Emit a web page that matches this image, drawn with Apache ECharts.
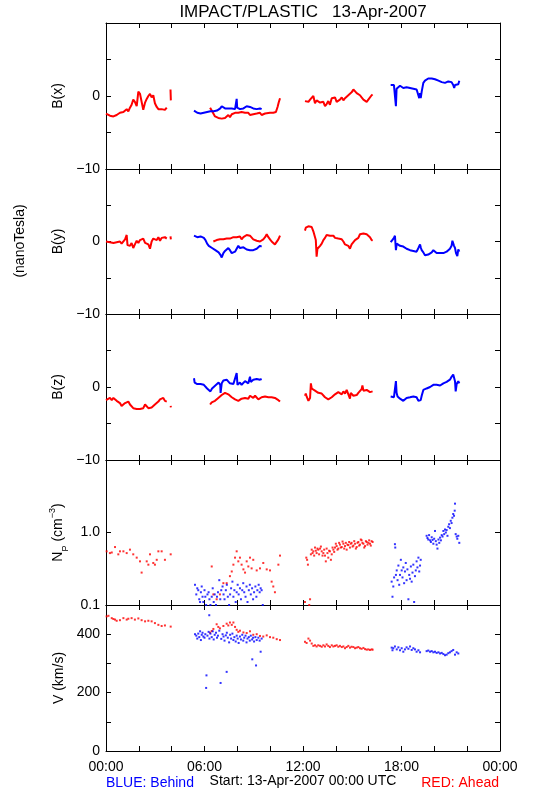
<!DOCTYPE html>
<html><head><meta charset="utf-8">
<script src="https://cdn.jsdelivr.net/npm/echarts@6/dist/echarts.min.js"></script>
<style>html,body{margin:0;padding:0;background:#fff}#c{width:550px;height:800px}</style>
</head><body><div id="c"></div>
<script>
// ---- tick labels / categories ----
const hourLabels = ['00:00','06:00','12:00','18:00','00:00'];

// ---- data: [hour, value] segments ----
const bxAhead = [
 [[0.00,-2.4],[0.10,-2.6],[0.24,-2.7],[0.35,-2.9],[0.45,-2.8],[0.55,-2.9],[0.65,-2.6],[0.75,-2.5],[0.85,-2.3],[0.95,-2.4],[1.06,-2.2],[1.16,-2.0],[1.26,-1.8],[1.36,-2.1],[1.46,-1.6],[1.56,-1.2],[1.66,-0.5],[1.76,-0.8],[1.87,-1.4],[1.97,0.6],[2.07,0.3],[2.17,0.2],[2.27,-1.9],[2.38,-0.9],[2.48,-0.4],[2.58,0.0],[2.68,0.3],[2.78,-0.2],[2.88,0.1],[2.98,-1.0],[3.09,-1.5],[3.19,-1.8],[3.29,-2.0],[3.39,-1.8],[3.49,-2.0],[3.59,-1.9],[3.70,-1.6]],
 [[3.93,0.9],[3.95,-0.6]],
 [[6.34,-1.6],[6.44,-2.0],[6.54,-2.4],[6.64,-2.8],[6.74,-2.7],[6.84,-3.0],[6.94,-2.9],[7.05,-3.1],[7.15,-3.2],[7.25,-3.0],[7.35,-3.1],[7.45,-2.6],[7.55,-2.9],[7.66,-2.5],[7.76,-2.6],[7.86,-2.3],[7.96,-2.5],[8.06,-2.3],[8.16,-2.4],[8.26,-2.2],[8.37,-2.4],[8.47,-2.3],[8.57,-2.5],[8.67,-2.3],[8.77,-2.6],[8.87,-2.4],[8.97,-2.5],[9.08,-2.7],[9.18,-2.4],[9.28,-2.5],[9.38,-2.3],[9.48,-2.6],[9.58,-2.5],[9.69,-2.4],[9.79,-2.5],[9.99,-2.3],[10.19,-2.3],[10.35,-2.2],[10.45,-1.5],[10.52,-0.9],[10.60,-0.3]],
 [[12.12,-0.7],[12.22,-0.9],[12.33,-0.8],[12.43,-0.5],[12.53,-0.3],[12.63,0.0],[12.73,-1.0],[12.83,-0.6],[12.93,-0.5],[13.04,-0.9],[13.14,-1.0],[13.24,-0.8],[13.34,-1.4],[13.44,-1.1],[13.54,-0.7],[13.64,-1.2],[13.75,-0.3],[13.85,-0.5],[13.95,-0.2],[14.05,-0.8],[14.15,-0.9],[14.25,-0.5],[14.36,-0.2],[14.46,-0.6],[14.56,-0.3],[14.66,-0.4],[14.76,0.1],[14.86,0.2],[14.96,0.5],[15.07,0.9],[15.17,0.7],[15.27,0.4],[15.37,0.6],[15.47,0.1],[15.57,-0.2],[15.68,-0.5],[15.78,-0.4],[15.88,-0.8],[15.98,-0.5],[16.08,-0.3],[16.18,0.1],[16.24,0.2]]
];
const bxBehind = [
 [[5.36,-2.0],[5.46,-2.1],[5.56,-2.3],[5.66,-2.3],[5.76,-2.4],[5.86,-2.3],[5.96,-2.3],[6.06,-2.3],[6.16,-2.2],[6.26,-2.2],[6.36,-2.1],[6.46,-2.0],[6.56,-2.1],[6.66,-1.9],[6.76,-2.0],[6.86,-1.8],[6.96,-1.7],[7.05,-1.4],[7.15,-1.6],[7.25,-1.7],[7.35,-1.8],[7.45,-1.7],[7.55,-1.9],[7.66,-1.7],[7.76,-1.5],[7.86,-1.8],[7.93,-1.7],[7.96,-0.4],[7.99,-1.6],[8.06,-1.5],[8.16,-1.8],[8.26,-1.6],[8.37,-1.7],[8.47,-1.5],[8.57,-1.4],[8.67,-1.2],[8.77,-1.5],[8.87,-1.6],[8.97,-1.7],[9.08,-1.6],[9.18,-1.8],[9.28,-1.9],[9.38,-1.7],[9.48,-1.8]],
 [[17.34,1.5],[17.44,1.6],[17.54,1.5],[17.62,1.4],[17.66,-1.4],[17.70,1.0],[17.81,1.2],[17.91,1.4],[18.01,1.2],[18.11,1.1],[18.21,0.9],[18.31,1.2],[18.42,1.0],[18.52,1.1],[18.62,1.2],[18.72,1.0],[18.82,1.1],[18.92,0.9],[19.00,0.3],[19.08,-0.3],[19.13,0.4],[19.17,-0.3],[19.23,0.6],[19.33,1.8],[19.43,2.1],[19.53,2.3],[19.63,2.4],[19.74,2.5],[19.84,2.4],[19.94,2.4],[20.04,2.3],[20.14,2.2],[20.25,2.1],[20.35,2.0],[20.45,1.9],[20.55,1.8],[20.65,1.8],[20.75,1.7],[20.85,2.0],[20.95,2.1],[21.05,1.9],[21.15,1.5],[21.21,1.1],[21.26,1.5],[21.36,1.7],[21.46,1.6],[21.52,2.1]]
];
const byAhead = [
 [[0.00,0.0],[0.10,0.1],[0.24,-0.1],[0.35,0.0],[0.45,-0.2],[0.55,0.0],[0.65,-0.1],[0.75,-0.2],[0.85,0.0],[0.95,-0.3],[1.06,-0.1],[1.16,0.3],[1.26,0.9],[1.31,-0.5],[1.36,-0.3],[1.46,-0.6],[1.56,-0.2],[1.66,-0.9],[1.76,-0.4],[1.87,0.1],[1.97,-0.2],[2.07,0.2],[2.17,0.0],[2.27,0.4],[2.38,-0.2],[2.48,0.0],[2.58,-0.4],[2.68,-1.0],[2.78,0.0],[2.88,0.4],[2.98,0.5],[3.09,0.2],[3.19,0.6],[3.29,0.1],[3.39,0.5],[3.49,0.3],[3.59,0.6],[3.70,0.4]],
 [[3.93,0.7],[3.95,0.3]],
 [[6.54,0.0],[6.64,0.1],[6.74,0.2],[6.84,0.3],[6.94,0.3],[7.05,0.4],[7.15,0.3],[7.25,0.4],[7.35,0.4],[7.45,0.5],[7.55,0.4],[7.66,0.5],[7.76,0.6],[7.86,0.4],[7.96,0.6],[8.06,0.5],[8.16,0.7],[8.26,0.3],[8.37,0.6],[8.47,0.8],[8.57,0.9],[8.67,1.1],[8.77,0.8],[8.87,0.6],[8.97,0.3],[9.08,0.4],[9.18,0.1],[9.28,0.2],[9.38,0.0],[9.48,0.2],[9.58,0.3],[9.69,0.6],[9.79,1.0],[9.89,0.6],[9.99,0.3],[10.09,0.0],[10.19,-0.1],[10.29,-0.4],[10.40,-0.2],[10.50,0.3],[10.60,0.8]],
 [[12.12,1.5],[12.17,1.9],[12.27,2.0],[12.33,2.1],[12.43,1.9],[12.53,2.0],[12.63,1.4],[12.73,1.2],[12.78,0.2],[12.83,-2.1],[12.88,-1.0],[12.93,-0.8],[13.04,-0.6],[13.14,-0.3],[13.24,0.2],[13.34,0.5],[13.44,0.9],[13.54,1.0],[13.64,0.8],[13.75,0.6],[13.85,0.8],[13.95,0.5],[14.05,0.7],[14.15,0.4],[14.25,0.6],[14.36,0.3],[14.46,0.0],[14.56,-0.4],[14.66,-0.2],[14.76,-0.6],[14.86,-1.0],[14.96,-0.4],[15.07,-0.3],[15.17,0.2],[15.27,0.0],[15.37,0.5],[15.47,1.0],[15.57,1.2],[15.68,1.1],[15.78,0.9],[15.88,1.0],[15.98,0.8],[16.08,0.6],[16.18,0.2],[16.24,0.1]]
];
const byBehind = [
 [[5.36,0.8],[5.46,0.9],[5.56,0.6],[5.66,0.4],[5.76,0.7],[5.86,0.9],[5.96,0.5],[6.06,0.2],[6.16,-0.3],[6.26,-0.6],[6.36,-0.8],[6.46,-0.9],[6.56,-1.0],[6.66,-1.2],[6.76,-1.4],[6.86,-1.5],[6.96,-1.8],[7.05,-2.2],[7.15,-1.6],[7.25,-1.3],[7.35,-1.1],[7.45,-0.9],[7.55,-1.2],[7.66,-1.6],[7.76,-1.8],[7.86,-1.4],[7.96,-1.0],[8.06,-0.6],[8.16,-0.9],[8.26,-1.0],[8.37,-0.8],[8.47,-0.9],[8.57,-1.1],[8.67,-1.0],[8.77,-1.2],[8.87,-1.3],[8.97,-1.2],[9.08,-1.1],[9.18,-1.0],[9.28,-0.8],[9.38,-0.6],[9.48,-0.7]],
 [[17.34,-0.1],[17.44,0.2],[17.54,0.5],[17.60,0.8],[17.66,-1.2],[17.71,-0.3],[17.81,-0.5],[17.91,-0.6],[18.01,-0.8],[18.11,-0.7],[18.21,-0.9],[18.31,-1.0],[18.42,-1.0],[18.52,-1.2],[18.62,-1.1],[18.72,-1.3],[18.82,-1.2],[18.92,-1.4],[19.03,-0.9],[19.13,-0.4],[19.17,-0.8],[19.23,-1.2],[19.33,-1.5],[19.43,-1.9],[19.53,-2.1],[19.63,-1.8],[19.74,-1.7],[19.84,-1.5],[19.94,-1.2],[20.04,-1.4],[20.14,-1.6],[20.25,-1.7],[20.35,-1.6],[20.45,-1.7],[20.55,-1.6],[20.65,-1.7],[20.75,-1.4],[20.85,-1.3],[20.95,-1.0],[21.05,-0.6],[21.10,0.1],[21.15,0.2],[21.20,-0.6],[21.26,-0.9],[21.32,-1.6],[21.40,-2.0],[21.46,-1.1],[21.52,-1.4]]
];
const bzAhead = [
 [[0.00,-1.8],[0.10,-1.6],[0.24,-1.5],[0.35,-1.8],[0.45,-1.5],[0.55,-1.7],[0.65,-1.9],[0.75,-2.0],[0.85,-2.2],[0.95,-2.6],[1.06,-2.7],[1.16,-2.2],[1.26,-2.1],[1.36,-2.0],[1.46,-2.4],[1.56,-2.6],[1.66,-2.9],[1.76,-2.8],[1.87,-3.0],[1.97,-3.1],[2.07,-3.0],[2.17,-3.0],[2.27,-2.9],[2.38,-2.4],[2.48,-2.6],[2.58,-2.9],[2.68,-2.7],[2.78,-2.8],[2.88,-2.6],[2.98,-2.4],[3.09,-2.2],[3.19,-2.0],[3.29,-1.7],[3.39,-1.6],[3.49,-1.5],[3.59,-1.9],[3.70,-2.0]],
 [[3.94,-2.6],[3.95,-2.8]],
 [[6.34,-2.4],[6.44,-2.1],[6.54,-2.3],[6.64,-1.9],[6.74,-1.7],[6.84,-1.5],[6.94,-1.3],[7.05,-1.1],[7.15,-0.9],[7.25,-0.8],[7.35,-0.9],[7.45,-1.0],[7.55,-1.2],[7.66,-1.4],[7.76,-1.5],[7.86,-1.7],[7.96,-1.6],[8.06,-1.9],[8.16,-1.8],[8.26,-1.6],[8.37,-1.7],[8.47,-1.5],[8.57,-1.4],[8.67,-1.6],[8.77,-1.2],[8.87,-1.4],[8.97,-1.5],[9.08,-1.2],[9.18,-1.4],[9.28,-1.7],[9.38,-1.6],[9.48,-1.4],[9.58,-1.5],[9.69,-1.3],[9.79,-1.5],[9.89,-1.4],[9.99,-1.5],[10.09,-1.4],[10.19,-1.6],[10.29,-1.5],[10.40,-1.7],[10.50,-1.8],[10.60,-2.0]],
 [[12.12,-1.2],[12.17,-0.9],[12.22,-1.3],[12.33,-1.9],[12.43,-1.5],[12.48,0.5],[12.53,-0.2],[12.63,-0.4],[12.73,-0.5],[12.83,-0.4],[12.93,-0.8],[13.04,-0.6],[13.14,-0.9],[13.24,-1.1],[13.34,-1.4],[13.44,-1.6],[13.54,-1.7],[13.64,-1.5],[13.75,-1.4],[13.85,-1.2],[13.95,-1.0],[14.05,-0.9],[14.15,-0.7],[14.25,-0.8],[14.36,-1.0],[14.46,-0.6],[14.56,-0.9],[14.66,-0.4],[14.76,-0.2],[14.86,-1.6],[14.91,-0.8],[14.96,-0.9],[15.07,-1.2],[15.17,-1.0],[15.27,-1.1],[15.37,-0.8],[15.47,-0.6],[15.57,-0.3],[15.62,0.2],[15.68,-0.5],[15.78,-0.7],[15.88,-0.4],[15.98,-0.6],[16.08,-0.7],[16.18,-0.5],[16.24,-0.6]]
];
const bzBehind = [
 [[5.36,1.2],[5.40,0.6],[5.46,0.8],[5.56,0.4],[5.66,0.3],[5.76,0.4],[5.86,0.2],[5.96,0.3],[6.06,0.1],[6.16,-0.2],[6.26,-0.3],[6.36,-0.6],[6.46,-0.2],[6.56,-0.1],[6.66,0.2],[6.76,0.4],[6.86,0.6],[6.96,0.3],[6.98,-0.8],[7.05,0.5],[7.15,0.9],[7.25,0.7],[7.35,1.0],[7.45,0.8],[7.55,0.5],[7.66,0.7],[7.76,0.4],[7.86,0.6],[7.96,1.9],[8.01,0.3],[8.06,0.4],[8.16,0.6],[8.26,0.3],[8.37,0.5],[8.47,0.8],[8.57,1.0],[8.67,0.5],[8.77,1.4],[8.82,0.7],[8.87,0.9],[8.97,1.0],[9.08,0.8],[9.18,1.1],[9.28,0.9],[9.38,1.0],[9.48,1.1]],
 [[17.34,-1.3],[17.44,-1.1],[17.54,-1.4],[17.62,-1.2],[17.66,0.8],[17.70,-0.8],[17.76,-1.3],[17.81,-1.4],[17.91,-1.6],[18.01,-1.7],[18.11,-1.9],[18.21,-1.7],[18.31,-1.5],[18.42,-1.6],[18.52,-1.4],[18.62,-1.6],[18.72,-1.3],[18.82,-1.5],[18.92,-1.4],[19.03,-1.9],[19.13,-2.1],[19.17,-1.8],[19.23,-1.2],[19.33,-0.4],[19.43,-0.6],[19.53,-0.2],[19.63,-0.3],[19.74,0.0],[19.84,-0.1],[19.94,0.3],[20.04,0.2],[20.14,0.3],[20.25,0.5],[20.35,0.2],[20.45,0.4],[20.55,0.5],[20.65,0.4],[20.75,0.7],[20.85,0.6],[20.95,1.0],[21.05,1.4],[21.10,1.2],[21.15,1.7],[21.20,1.9],[21.26,0.8],[21.30,-0.6],[21.36,0.4],[21.46,0.8],[21.52,0.5]]
];
const npAhead = [[0.04,0.55],[0.24,0.52],[0.35,0.53],[0.55,0.63],[0.75,0.50],[0.85,0.55],[1.06,0.55],[1.26,0.52],[1.46,0.58],[1.66,0.50],[1.87,0.45],[2.07,0.40],[2.17,0.28],[2.48,0.40],[2.58,0.36],[2.68,0.50],[2.88,0.38],[2.98,0.36],[3.09,0.42],[3.19,0.55],[3.39,0.55],[3.59,0.42],[3.94,0.50],
 [6.44,0.34],[6.54,0.14],[6.74,0.12],[6.94,0.14],[7.15,0.20],[7.35,0.20],[7.55,0.25],[7.66,0.29],[7.76,0.36],[7.86,0.45],[7.96,0.55],[8.06,0.40],[8.16,0.45],[8.26,0.36],[8.37,0.31],[8.47,0.28],[8.57,0.40],[8.67,0.34],[8.77,0.45],[8.87,0.32],[8.97,0.42],[9.18,0.30],[9.38,0.32],[9.58,0.38],[9.79,0.31],[9.99,0.30],[10.09,0.21],[10.19,0.18],[10.29,0.15],[10.50,0.36],[10.60,0.48],
 [12.12,0.11],[12.20,0.45],[12.25,0.42],[12.30,0.36],[12.38,0.10],[12.43,0.12],[12.48,0.50],[12.53,0.58],[12.58,0.52],[12.63,0.55],[12.68,0.48],[12.73,0.62],[12.78,0.56],[12.83,0.52],[12.88,0.60],[12.93,0.58],[12.98,0.50],[13.04,0.60],[13.09,0.64],[13.14,0.55],[13.19,0.48],[13.24,0.52],[13.29,0.58],[13.34,0.48],[13.39,0.40],[13.44,0.60],[13.49,0.52],[13.54,0.45],[13.59,0.56],[13.64,0.55],[13.70,0.42],[13.75,0.50],[13.80,0.62],[13.85,0.58],[13.90,0.54],[13.95,0.62],[14.00,0.70],[14.05,0.65],[14.10,0.58],[14.15,0.60],[14.20,0.72],[14.25,0.68],[14.30,0.62],[14.36,0.63],[14.41,0.75],[14.46,0.70],[14.51,0.60],[14.56,0.65],[14.61,0.72],[14.66,0.58],[14.71,0.68],[14.76,0.67],[14.81,0.74],[14.86,0.62],[14.91,0.70],[14.96,0.72],[15.02,0.64],[15.07,0.66],[15.12,0.76],[15.17,0.70],[15.22,0.60],[15.27,0.63],[15.32,0.72],[15.37,0.74],[15.42,0.66],[15.47,0.68],[15.52,0.80],[15.57,0.78],[15.62,0.72],[15.68,0.70],[15.73,0.62],[15.78,0.65],[15.83,0.76],[15.88,0.74],[15.93,0.68],[15.98,0.72],[16.03,0.78],[16.08,0.70],[16.13,0.66],[16.18,0.76],[16.24,0.74]];
const npBehind = [[5.42,0.19],[5.50,0.14],[5.56,0.17],[5.62,0.16],[5.68,0.12],[5.73,0.11],[5.78,0.15],[5.83,0.18],[5.88,0.13],[5.93,0.11],[6.00,0.16],[6.05,0.13],[6.10,0.10],[6.18,0.14],[6.25,0.15],[6.30,0.12],[6.36,0.10],[6.44,0.13],[6.50,0.17],[6.56,0.11],[6.62,0.14],[6.70,0.10],[6.76,0.13],[6.82,0.15],[6.90,0.22],[6.96,0.12],[7.02,0.16],[7.10,0.18],[7.16,0.14],[7.22,0.12],[7.30,0.16],[7.36,0.19],[7.42,0.13],[7.50,0.10],[7.56,0.14],[7.62,0.17],[7.70,0.21],[7.76,0.13],[7.82,0.16],[7.90,0.11],[7.96,0.15],[8.02,0.19],[8.08,0.14],[8.16,0.17],[8.22,0.12],[8.30,0.16],[8.36,0.20],[8.42,0.15],[8.50,0.13],[8.56,0.18],[8.62,0.11],[8.70,0.16],[8.76,0.19],[8.82,0.14],[8.90,0.17],[8.96,0.12],[9.02,0.15],[9.10,0.18],[9.16,0.13],[9.22,0.16],[9.30,0.19],[9.36,0.15],[9.42,0.17],[9.48,0.16],[9.55,0.10],
 [17.40,0.21],[17.45,0.13],[17.50,0.18],[17.55,0.24],[17.60,0.69],[17.62,0.62],[17.66,0.26],[17.71,0.30],[17.76,0.22],[17.81,0.35],[17.86,0.19],[17.91,0.26],[17.96,0.42],[18.01,0.30],[18.06,0.24],[18.11,0.33],[18.16,0.20],[18.21,0.29],[18.26,0.38],[18.31,0.22],[18.36,0.31],[18.42,0.12],[18.47,0.26],[18.52,0.23],[18.57,0.34],[18.62,0.21],[18.67,0.28],[18.72,0.36],[18.77,0.11],[18.82,0.25],[18.87,0.30],[18.92,0.40],[18.97,0.33],[19.03,0.45],[19.08,0.29],[19.13,0.35],[19.17,0.42],
 [19.53,0.90],[19.58,0.84],[19.63,0.80],[19.68,0.92],[19.74,0.78],[19.79,0.74],[19.84,0.86],[19.89,0.79],[19.94,0.70],[19.99,0.82],[20.04,1.05],[20.09,0.76],[20.14,0.68],[20.19,0.60],[20.25,0.80],[20.30,0.72],[20.35,0.85],[20.40,0.78],[20.45,0.92],[20.50,0.88],[20.55,1.05],[20.60,0.95],[20.65,1.10],[20.70,1.00],[20.75,1.08],[20.80,0.90],[20.85,1.20],[20.90,1.30],[20.95,1.15],[21.00,1.45],[21.05,1.35],[21.10,1.60],[21.15,1.80],[21.20,1.70],[21.24,2.00],[21.26,2.50],[21.30,0.95],[21.36,0.88],[21.40,0.82],[21.46,0.90],[21.52,0.72]];
const vAhead = [[0.04,461],[0.15,463],[0.35,455],[0.45,452],[0.55,450],[0.65,446],[0.85,448],[1.06,455],[1.26,450],[1.36,453],[1.56,455],[1.76,450],[1.97,454],[2.17,448],[2.38,444],[2.58,446],[2.78,444],[2.98,438],[3.19,432],[3.39,428],[3.59,430],[3.94,426],
 [6.34,405],[6.44,411],[6.54,418],[6.74,434],[6.84,425],[6.94,420],[7.15,428],[7.35,436],[7.45,430],[7.55,440],[7.66,432],[7.76,440],[7.86,425],[7.96,415],[8.06,408],[8.16,412],[8.37,406],[8.57,404],[8.77,410],[8.97,398],[9.18,400],[9.38,394],[9.58,392],[9.79,396],[9.99,390],[10.19,388],[10.40,383],[10.60,380],
 [12.12,374],[12.22,370],[12.33,385],[12.43,378],[12.53,368],[12.63,360],[12.73,362],[12.83,358],[12.93,362],[13.04,360],[13.14,357],[13.24,362],[13.34,358],[13.44,365],[13.54,360],[13.64,356],[13.75,362],[13.85,358],[13.95,360],[14.05,362],[14.15,357],[14.25,360],[14.36,356],[14.46,358],[14.56,352],[14.66,356],[14.76,360],[14.86,354],[14.96,357],[15.07,356],[15.17,352],[15.27,354],[15.37,356],[15.47,352],[15.57,350],[15.68,353],[15.78,349],[15.88,347],[15.98,348],[16.08,346],[16.18,348],[16.24,347]];
const vBehind = [[5.42,400],[5.50,395],[5.56,385],[5.62,402],[5.68,390],[5.73,410],[5.78,380],[5.83,398],[5.88,405],[5.93,392],[6.00,388],[6.05,400],[6.10,216],[6.12,259],[6.18,395],[6.25,408],[6.29,465],[6.30,385],[6.36,402],[6.44,390],[6.50,410],[6.56,382],[6.62,398],[6.70,405],[6.76,388],[6.82,395],[6.90,412],[6.98,233],[7.02,384],[7.10,400],[7.16,392],[7.22,378],[7.30,396],[7.35,271],[7.36,405],[7.42,388],[7.50,372],[7.56,398],[7.62,385],[7.70,402],[7.76,380],[7.82,390],[7.90,375],[7.96,395],[8.02,385],[8.08,370],[8.16,392],[8.22,382],[8.30,398],[8.36,378],[8.42,388],[8.50,395],[8.56,372],[8.62,385],[8.70,390],[8.76,378],[8.82,395],[8.90,382],[8.91,314],[8.96,388],[9.02,375],[9.10,390],[9.14,293],[9.18,380],[9.28,388],[9.36,378],[9.42,340],[9.48,385],
 [17.40,354],[17.45,345],[17.50,352],[17.60,358],[17.71,348],[17.81,355],[17.91,345],[18.01,352],[18.11,340],[18.21,348],[18.31,355],[18.42,350],[18.52,358],[18.62,346],[18.72,352],[18.82,348],[18.92,340],[19.03,345],[19.13,338],
 [19.53,342],[19.63,344],[19.74,340],[19.84,342],[19.94,338],[20.04,340],[20.14,336],[20.25,338],[20.35,334],[20.45,336],[20.55,332],[20.65,328],[20.75,330],[20.85,335],[20.95,338],[21.05,342],[21.15,346],[21.26,330],[21.36,338],[21.46,334]];

// ---- layout ----
const RED = '#ff0000', BLUE = '#0000ff';
const FONT = 'Liberation Sans';
const tops = [23, 169, 314, 460, 605];
const heights = [146, 145, 146, 145, 146];

const grids = tops.map((t, i) => ({left: 106, width: 394, top: t, height: heights[i], show: false}));

const tickStyle = {show: true, inside: true, length: 5, lineStyle: {color: '#000', width: 1}};
const lineStyle = {show: true, onZero: false, lineStyle: {color: '#000', width: 1}};
const xAxes = [];
tops.forEach((t, i) => {
  ['bottom', 'top'].forEach(pos => {
    xAxes.push({
      type: 'value', gridIndex: i, min: 0, max: 24, interval: 2, position: pos,
      axisLine: lineStyle, splitLine: {show: false}, axisTick: tickStyle,
      axisLabel: {
        show: i === 4 && pos === 'bottom', margin: 9, color: '#000', fontFamily: FONT, fontSize: 14,
        formatter: v => (v % 6 === 0 ? hourLabels[v / 6] : '')
      }
    });
  });
});

const bFmt = v => (v === 0 ? '0' : v === -10 ? '\u221210' : '');
const npFmt = v => (Math.abs(v - 0.1) < 1e-6 ? '0.1' : Math.abs(v - 1) < 1e-6 ? '1.0' : '');
const vFmt = v => (v === 0 || v === 200 || v === 400 ? String(v) : '');
const nameStyle = {color: '#000', fontFamily: FONT, fontSize: 14};
const npName = {
  rich: {
    a: {color: '#000', fontFamily: FONT, fontSize: 14, lineHeight: 22},
    sub: {color: '#000', fontFamily: FONT, fontSize: 9, lineHeight: 10, verticalAlign: 'bottom'},
    sup: {color: '#000', fontFamily: FONT, fontSize: 9, lineHeight: 10, verticalAlign: 'top'}
  }
};
const yCfg = [
  {type: 'value', min: -10, max: 10, interval: 5, fmt: bFmt, name: 'B(x)', ns: nameStyle},
  {type: 'value', min: -10, max: 10, interval: 5, fmt: bFmt, name: 'B(y)', ns: nameStyle},
  {type: 'value', min: -10, max: 10, interval: 5, fmt: bFmt, name: 'B(z)', ns: nameStyle},
  {type: 'log', min: 0.1, max: 10, fmt: npFmt, name: '{a|N}{sub|P}{a| (cm}{sup|\u22123}{a|)}', ns: npName},
  {type: 'value', min: 0, max: 500, interval: 100, fmt: vFmt, name: 'V (km/s)', ns: nameStyle}
];
const yAxes = [];
yCfg.forEach((c, i) => {
  ['left', 'right'].forEach(pos => {
    const ax = {
      type: c.type, gridIndex: i, min: c.min, max: c.max, position: pos,
      axisLine: lineStyle, splitLine: {show: false}, axisTick: tickStyle,
      axisLabel: {show: pos === 'left', margin: 6, color: '#000', fontFamily: FONT, fontSize: 14, formatter: c.fmt}
    };
    if (c.interval) ax.interval = c.interval;
    if (c.type === 'log') ax.logBase = 10;
    if (pos === 'left') {
      ax.name = c.name; ax.nameLocation = 'middle'; ax.nameRotate = 90; ax.nameGap = 36; ax.nameTextStyle = c.ns;
    }
    yAxes.push(ax);
  });
});

const series = [];
function addLines(segs, i, color) {
  segs.forEach(seg => series.push({
    type: 'line', xAxisIndex: 2 * i, yAxisIndex: 2 * i, data: seg, showSymbol: false, symbol: 'none',
    lineStyle: {color: color, width: 2}, itemStyle: {color: color}, silent: true, animation: false
  }));
}
function addDots(data, i, color) {
  series.push({
    type: 'scatter', xAxisIndex: 2 * i, yAxisIndex: 2 * i, data: data, symbol: 'rect', symbolSize: 2,
    itemStyle: {color: color}, silent: true, animation: false
  });
}
addLines(bxAhead, 0, RED); addLines(bxBehind, 0, BLUE);
addLines(byAhead, 1, RED); addLines(byBehind, 1, BLUE);
addLines(bzAhead, 2, RED); addLines(bzBehind, 2, BLUE);
addDots(npAhead, 3, RED); addDots(npBehind, 3, BLUE);
addDots(vAhead, 4, RED); addDots(vBehind, 4, BLUE);

const txt = (x, y, s, color, align, size, extra) => Object.assign({
  type: 'text', x: x, y: y, silent: true,
  style: {text: s, fill: color, font: size + 'px "' + FONT + '"', textAlign: align, textVerticalAlign: 'middle'}
}, extra || {});

const chart = echarts.init(document.getElementById('c'), null, {renderer: 'canvas'});
chart.setOption({
  animation: false,
  backgroundColor: '#fff',
  grid: grids, xAxis: xAxes, yAxis: yAxes, series: series,
  graphic: [
    txt(303, 12, 'IMPACT/PLASTIC   13-Apr-2007', '#000', 'center', 17),
    txt(20, 241, '(nanoTesla)', '#000', 'center', 14, {rotation: Math.PI / 2}),
    txt(106, 783, 'BLUE: Behind', BLUE, 'left', 14),
    txt(303, 781, 'Start: 13-Apr-2007 00:00 UTC', '#000', 'center', 14),
    txt(499, 783, 'RED: Ahead', RED, 'right', 14)
  ]
});
</script></body></html>
